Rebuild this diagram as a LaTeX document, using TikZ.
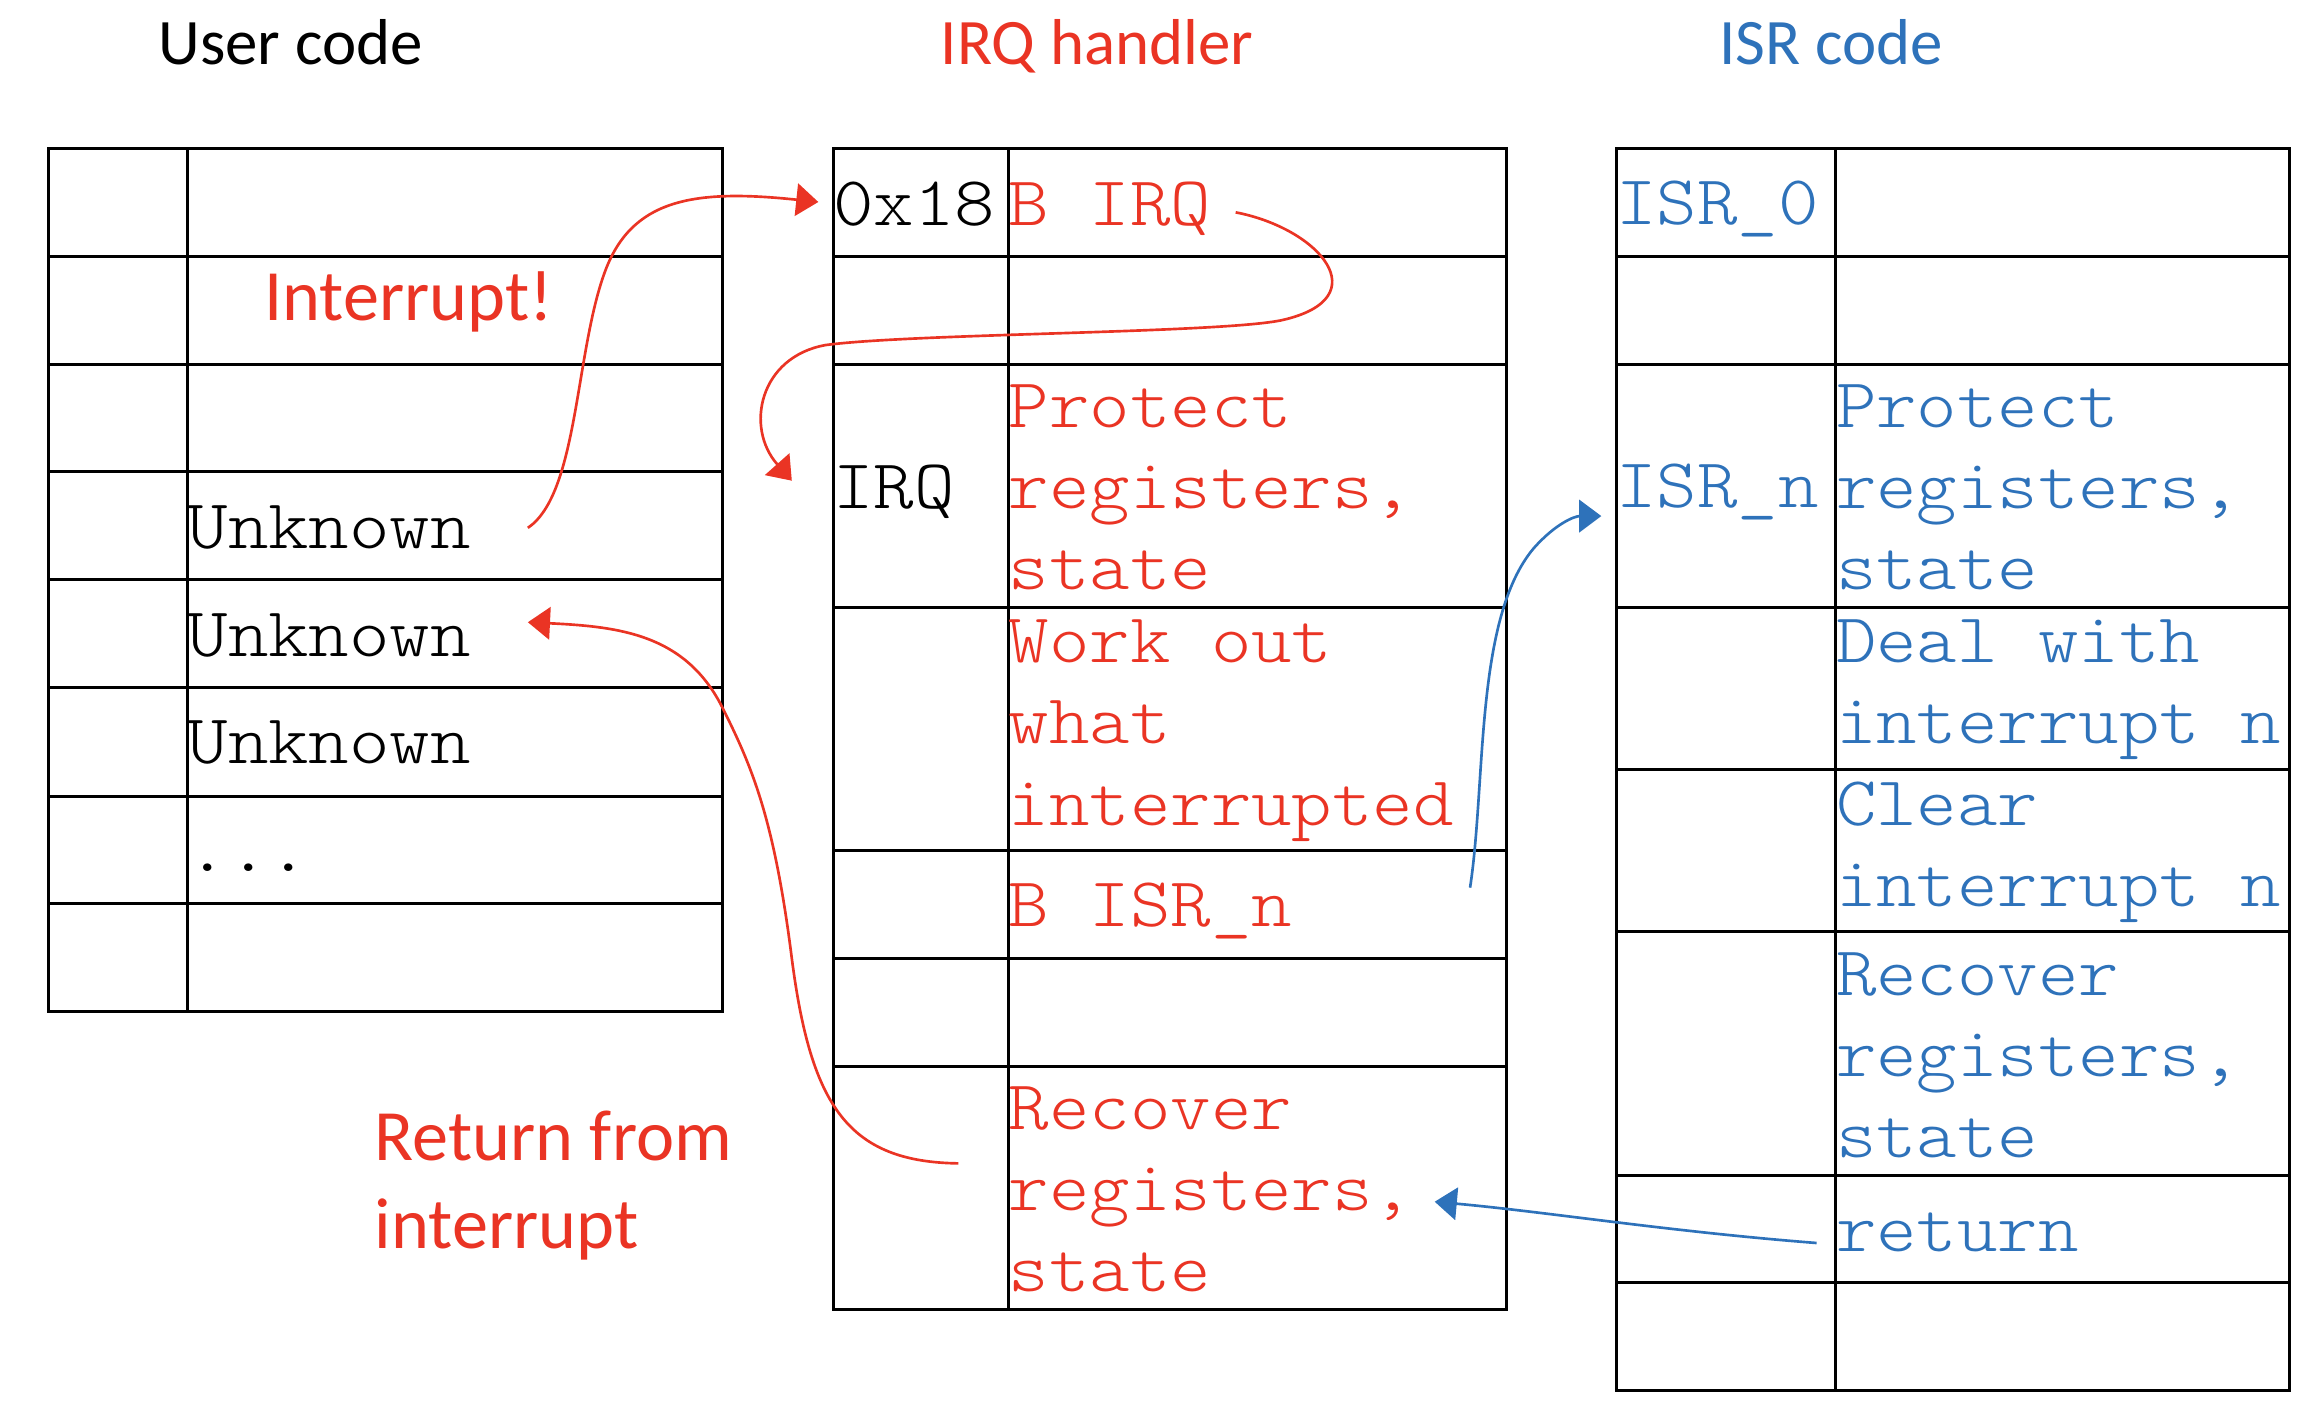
\documentclass[tikz,border=0pt]{standalone}
\usepackage{fontspec}
\setmainfont{Carlito}
\setmonofont[FakeStretch=1.1]{lmmonolt10-regular.otf}
\usetikzlibrary{arrows.meta}
\definecolor{irqred}{RGB}{234,52,36}
\definecolor{isrblue}{RGB}{46,114,186}
\tikzset{
  cell/.style={line width=2pt},
  code/.style={font=\ttfamily\fontsize{47.5}{55}\selectfont, inner sep=0pt, anchor=base west},
  block/.style={code, anchor=west, align=left},
  heading/.style={font=\fontsize{44}{53}\selectfont, inner sep=0pt, anchor=base},
  note/.style={font=\fontsize{49}{60}\selectfont, text=irqred, inner sep=0pt},
  jump/.style={line width=1.8pt, -{Triangle[length=15pt,width=22pt]}},
}
\begin{document}
\begin{tikzpicture}[x=1pt,y=-1pt]
\useasboundingbox (0,0) rectangle (1568,958);

% headings
\node[heading] (user) at (197,44) {User code};
\node[heading, text=irqred] (irq) at (744,44) {IRQ handler};
\node[heading, text=isrblue] (isr) at (1242,44) {ISR code};

% user code table
\draw[cell] (33,101) rectangle (490,686);
\draw[cell] (127,101) -- (127,686);
\foreach \y in {174,247,320,393,466,540,613}
  \draw[cell] (33,\y) -- (490,\y);

% irq handler table
\draw[cell] (565,101) rectangle (1022,888);
\draw[cell] (684,101) -- (684,888);
\foreach \y in {174,247,412,577,650,723}
  \draw[cell] (565,\y) -- (1022,\y);

% isr code table
\draw[cell] (1096,101) rectangle (1553,943);
\draw[cell] (1245,101) -- (1245,943);
\foreach \y in {174,247,412,522,632,797,870}
  \draw[cell] (1096,\y) -- (1553,\y);

% user code
\node[code] (unkA) at (127,372) {Unknown};
\node[code] (unkB) at (127,445) {Unknown};
\node[code] (unkC) at (127,518) {Unknown};
\node[code] (dots) at (127,591) {...};
\node[note] (intr) at (277,205) {Interrupt!};
\node[note, anchor=west, align=left] (ret) at (254,804) {Return from\\interrupt};

% irq handler
\node[code] (hex) at (565,153) {0x18};
\node[code, text=irqred] (birq) at (684,153) {B IRQ};
\node[code] (irqlbl) at (565,345) {IRQ};
\node[block, text=irqred] (prot) at (684,330.5) {Protect\\registers,\\state};
\node[block, text=irqred] (work) at (684,495.5) {Work out\\what\\interrupted};
\node[code, text=irqred] (bisr) at (684,628.5) {B ISR\_n};
\node[block, text=irqred] (recv) at (684,806.5) {Recover\\registers,\\state};

% isr code
\node[code, text=isrblue] (isr0) at (1096,152.5) {ISR\_0};
\node[code, text=isrblue] (isrn) at (1096,344.5) {ISR\_n};
\node[block, text=isrblue] (protn) at (1245,330.5) {Protect\\registers,\\state};
\node[block, text=isrblue] (deal) at (1245,468) {Deal with\\interrupt n};
\node[block, text=isrblue] (clr) at (1245,578) {Clear\\interrupt n};
\node[block, text=isrblue] (recvn) at (1245,715.5) {Recover\\registers,\\state};
\node[code, text=isrblue] (rtn) at (1245,848.5) {return};

% connector ends
\coordinate (intsrc) at (358,358);
\coordinate (vecin) at (555,137);
\coordinate (birqout) at (838,144);
\coordinate (irqin) at (537,326);
\coordinate (bisrout) at (997,602);
\coordinate (isrin) at (1086,350);
\coordinate (rtnout) at (1232,843);
\coordinate (recvin) at (973,815);
\coordinate (recvout) at (650,789);
\coordinate (usrin) at (358,422);

\draw[jump, irqred] (intsrc) .. controls (392,335) and (390,240) .. (410,185)
  .. controls (428,135) and (470,128) .. (vecin);
\draw[jump, irqred] (birqout) .. controls (895,155) and (935,202) .. (870,217)
  .. controls (830,226) and (620,226) .. (560,234)
  .. controls (515,242) and (505,290) .. (irqin);
\draw[jump, isrblue] (bisrout) .. controls (1008,530) and (1000,420) .. (1040,372)
  .. controls (1055,355) and (1068,350) .. (isrin);
\draw[jump, isrblue] (rtnout) .. controls (1130,835) and (1050,822) .. (recvin);
\draw[jump, irqred] (recvout) .. controls (575,788) and (550,750) .. (537,650)
  .. controls (525,555) and (510,520) .. (490,480)
  .. controls (465,430) and (420,425) .. (usrin);

\end{tikzpicture}
\end{document}
